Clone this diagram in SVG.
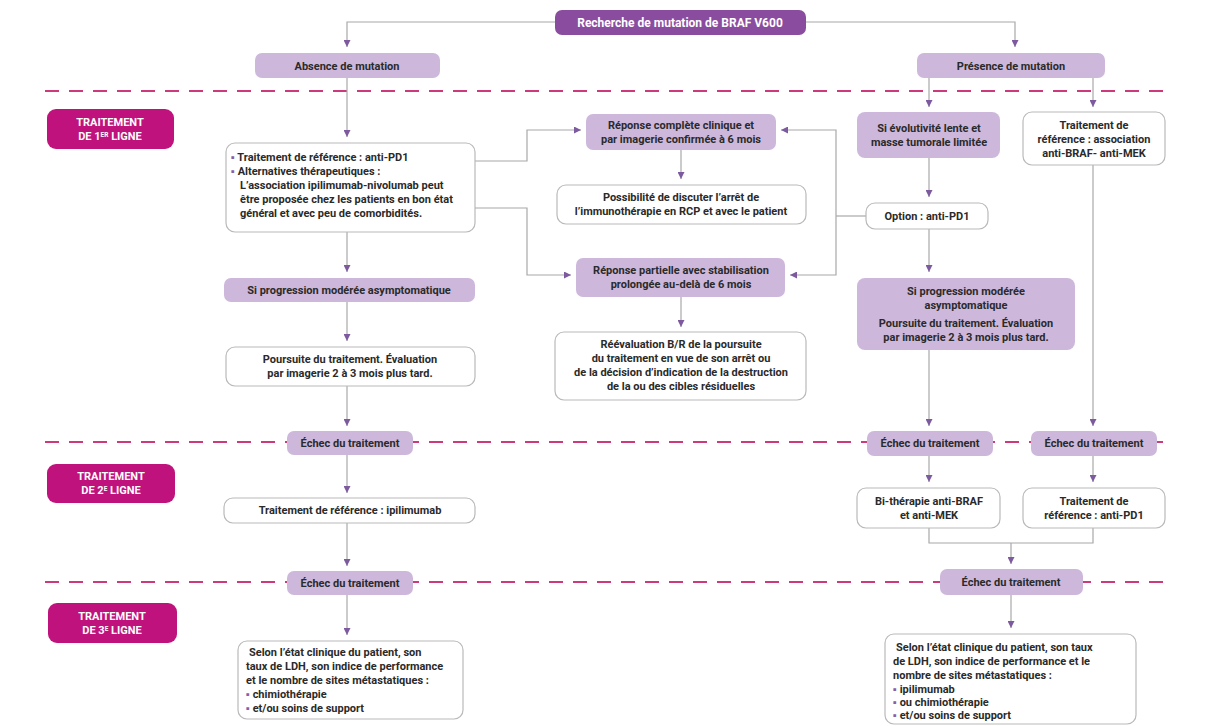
<svg xmlns="http://www.w3.org/2000/svg" width="1215" height="726" viewBox="0 0 1215 726">
  <style>
    text { font-family: Roboto, "Liberation Sans", sans-serif; font-weight: 700; font-size: 11px; fill: #2a2a2a; }
    .c { text-anchor: middle; }
    .w { fill: #fff; font-size: 12px; }
    .lbl { fill: #fff; font-weight: 700; font-size: 11px; text-anchor: middle; }
    .top { fill: #8a4c9e; }
    .lite { fill: #cdb8dc; }
    .box { fill: #fff; stroke: #b9b9b9; stroke-width: 1.2; }
    .tag { fill: #c0127c; }
    .dash { stroke: #cc3a7c; stroke-width: 2; stroke-dasharray: 14 10; fill: none; }
    .ln { stroke: #a8a8a8; stroke-width: 1.2; fill: none; }
    .arr { stroke: #a8a8a8; stroke-width: 1.2; fill: none; marker-end: url(#ah); }
    .bul { fill: #8a5ca8; }
  </style>
  <defs>
    <marker id="ah" viewBox="0 0 8 8" refX="8" refY="4" markerWidth="7" markerHeight="7" markerUnits="userSpaceOnUse" orient="auto">
      <path d="M0,0 L8,4 L0,8 Z" fill="#7d5a9e"/>
    </marker>
  </defs>
  <rect width="1215" height="726" fill="#fff"/>

  <!-- section separators -->
  <g id="separators">
    <line class="dash" x1="45" y1="91" x2="1170" y2="91"/>
    <line class="dash" x1="45" y1="442" x2="1170" y2="442"/>
    <line class="dash" x1="45" y1="582" x2="1170" y2="582"/>
  </g>

  <!-- connectors -->
  <g id="connectors">
    <polyline class="arr" points="555,22 347,22 347,47"/>
    <polyline class="arr" points="806,22 1015,22 1015,47"/>
    <line class="arr" x1="347" y1="78" x2="347" y2="137"/>
    <line class="arr" x1="347" y1="232" x2="347" y2="272"/>
    <line class="arr" x1="347" y1="302" x2="347" y2="341"/>
    <line class="arr" x1="347" y1="386" x2="347" y2="426"/>
    <line class="arr" x1="347" y1="455" x2="347" y2="493"/>
    <line class="arr" x1="347" y1="523" x2="347" y2="566"/>
    <line class="arr" x1="347" y1="595" x2="347" y2="635"/>
    <polyline class="arr" points="475,161 527,161 527,130 581,130"/>
    <polyline class="arr" points="475,208 527,208 527,275 571,275"/>
    <line class="arr" x1="681" y1="150" x2="681" y2="179"/>
    <line class="arr" x1="681" y1="297" x2="681" y2="327"/>
    <polyline class="arr" points="836,216 836,130 781,130"/>
    <polyline class="arr" points="836,216 836,275 790,275"/>
    <line class="ln" x1="836" y1="216" x2="866" y2="216"/>
    <line class="arr" x1="929" y1="78" x2="929" y2="107"/>
    <line class="arr" x1="1093" y1="78" x2="1093" y2="107"/>
    <line class="arr" x1="929" y1="158" x2="929" y2="197"/>
    <line class="arr" x1="929" y1="229" x2="929" y2="272"/>
    <line class="arr" x1="929" y1="350" x2="929" y2="426"/>
    <line class="arr" x1="1093" y1="165" x2="1093" y2="426"/>
    <line class="arr" x1="929" y1="456" x2="929" y2="482"/>
    <line class="arr" x1="1093" y1="456" x2="1093" y2="482"/>
    <polyline class="ln" points="929,528 929,543 1093,543 1093,528"/>
    <line class="arr" x1="1011" y1="543" x2="1011" y2="564"/>
    <line class="arr" x1="1011" y1="595" x2="1011" y2="628"/>
  </g>

  <!-- line-of-treatment tags -->
  <g id="tag-1">
    <rect class="tag" x="47" y="109" width="127" height="40" rx="9"/>
    <text class="lbl" x="110" y="126">TRAITEMENT</text>
    <text class="lbl" x="110" y="140">DE 1<tspan font-size="6.5" dy="-3.5">ER</tspan><tspan dy="3.5"> LIGNE</tspan></text>
  </g>
  <g id="tag-2">
    <rect class="tag" x="47" y="464" width="128" height="39" rx="9"/>
    <text class="lbl" x="111" y="480">TRAITEMENT</text>
    <text class="lbl" x="111" y="494">DE 2<tspan font-size="6.5" dy="-3.5">E</tspan><tspan dy="3.5"> LIGNE</tspan></text>
  </g>
  <g id="tag-3">
    <rect class="tag" x="48" y="603" width="129" height="40" rx="9"/>
    <text class="lbl" x="112" y="620">TRAITEMENT</text>
    <text class="lbl" x="112" y="634">DE 3<tspan font-size="6.5" dy="-3.5">E</tspan><tspan dy="3.5"> LIGNE</tspan></text>
  </g>

  <!-- nodes -->
  <g id="n-braf">
    <rect class="top" x="555" y="10" width="251" height="25" rx="7"/>
    <text class="c w" x="680" y="27">Recherche de mutation de BRAF V600</text>
  </g>
  <g id="n-absence">
    <rect class="lite" x="255" y="53" width="185" height="25" rx="7"/>
    <text class="c" x="347" y="69.5">Absence de mutation</text>
  </g>
  <g id="n-presence">
    <rect class="lite" x="917" y="53" width="188" height="25" rx="7"/>
    <text class="c" x="1011" y="69.5">Présence de mutation</text>
  </g>
  <g id="n-ref-antipd1">
    <rect class="box" x="226" y="143" width="249" height="89" rx="9"/>
    <text x="231" y="161"><tspan class="bul">▪</tspan> Traitement de référence : anti-PD1</text>
    <text x="231" y="175"><tspan class="bul">▪</tspan> Alternatives thérapeutiques :</text>
    <text x="240" y="189">L’association ipilimumab-nivolumab peut</text>
    <text x="240" y="203">être proposée chez les patients en bon état</text>
    <text x="240" y="217">général et avec peu de comorbidités.</text>
  </g>
  <g id="n-prog-left">
    <rect class="lite" x="224" y="278" width="251" height="24" rx="7"/>
    <text class="c" x="349" y="294">Si progression modérée asymptomatique</text>
  </g>
  <g id="n-poursuite-left">
    <rect class="box" x="226" y="347" width="249" height="39" rx="9"/>
    <text class="c" x="350" y="363">Poursuite du traitement. Évaluation</text>
    <text class="c" x="350" y="377">par imagerie 2 à 3 mois plus tard.</text>
  </g>
  <g id="n-echec-l1">
    <rect class="lite" x="287" y="431" width="126" height="24" rx="7"/>
    <text class="c" x="350" y="447">Échec du traitement</text>
  </g>
  <g id="n-ipi">
    <rect class="box" x="224" y="498" width="251" height="25" rx="9"/>
    <text class="c" x="350" y="514">Traitement de référence : ipilimumab</text>
  </g>
  <g id="n-echec-l2">
    <rect class="lite" x="287" y="571" width="126" height="24" rx="7"/>
    <text class="c" x="350" y="587">Échec du traitement</text>
  </g>
  <g id="n-third-left">
    <rect class="box" x="238" y="641" width="225" height="78" rx="9"/>
    <text x="249" y="656">Selon l’état clinique du patient, son</text>
    <text x="246" y="670">taux de LDH, son indice de performance</text>
    <text x="246" y="684">et le nombre de sites métastatiques :</text>
    <text x="246" y="698"><tspan class="bul">▪</tspan> chimiothérapie</text>
    <text x="246" y="712"><tspan class="bul">▪</tspan> et/ou soins de support</text>
  </g>
  <g id="n-rep-complete">
    <rect class="lite" x="586" y="114" width="190" height="36" rx="7"/>
    <text class="c" x="681" y="129">Réponse complète clinique et</text>
    <text class="c" x="681" y="143">par imagerie confirmée à 6 mois</text>
  </g>
  <g id="n-arret">
    <rect class="box" x="557" y="185" width="249" height="39" rx="9"/>
    <text class="c" x="681" y="201">Possibilité de discuter l’arrêt de</text>
    <text class="c" x="681" y="215">l’immunothérapie en RCP et avec le patient</text>
  </g>
  <g id="n-rep-partielle">
    <rect class="lite" x="576" y="258" width="209" height="39" rx="7"/>
    <text class="c" x="681" y="274">Réponse partielle avec stabilisation</text>
    <text class="c" x="681" y="288">prolongée au-delà de 6 mois</text>
  </g>
  <g id="n-reeval">
    <rect class="box" x="555" y="332" width="251" height="68" rx="9"/>
    <text class="c" x="681" y="348">Réévaluation B/R de la poursuite</text>
    <text class="c" x="681" y="362">du traitement en vue de son arrêt ou</text>
    <text class="c" x="681" y="376">de la décision d’indication de la destruction</text>
    <text class="c" x="681" y="390">de la ou des cibles résiduelles</text>
  </g>
  <g id="n-evol-lente">
    <rect class="lite" x="857" y="112" width="143" height="46" rx="8"/>
    <text class="c" x="929" y="132">Si évolutivité lente et</text>
    <text class="c" x="929" y="146">masse tumorale limitée</text>
  </g>
  <g id="n-option">
    <rect class="box" x="866" y="203" width="122" height="26" rx="9"/>
    <text class="c" x="927" y="220">Option : anti-PD1</text>
  </g>
  <g id="n-prog-right">
    <rect class="lite" x="857" y="278" width="218" height="72" rx="8"/>
    <text class="c" x="966" y="295">Si progression modérée</text>
    <text class="c" x="966" y="309">asymptomatique</text>
    <text class="c" x="966" y="327">Poursuite du traitement. Évaluation</text>
    <text class="c" x="966" y="341">par imagerie 2 à 3 mois plus tard.</text>
  </g>
  <g id="n-ref-braf-mek">
    <rect class="box" x="1023" y="112" width="142" height="53" rx="9"/>
    <text class="c" x="1094" y="129">Traitement de</text>
    <text class="c" x="1094" y="143">référence : association</text>
    <text class="c" x="1094" y="157">anti-BRAF- anti-MEK</text>
  </g>
  <g id="n-echec-r1">
    <rect class="lite" x="867" y="431" width="126" height="25" rx="7"/>
    <text class="c" x="930" y="447">Échec du traitement</text>
  </g>
  <g id="n-echec-r2">
    <rect class="lite" x="1031" y="431" width="126" height="25" rx="7"/>
    <text class="c" x="1094" y="447">Échec du traitement</text>
  </g>
  <g id="n-bitherapie">
    <rect class="box" x="857" y="488" width="143" height="40" rx="9"/>
    <text class="c" x="929" y="505">Bi-thérapie anti-BRAF</text>
    <text class="c" x="929" y="519">et anti-MEK</text>
  </g>
  <g id="n-ref-pd1">
    <rect class="box" x="1023" y="488" width="142" height="40" rx="9"/>
    <text class="c" x="1094" y="505">Traitement de</text>
    <text class="c" x="1094" y="519">référence : anti-PD1</text>
  </g>
  <g id="n-echec-r3">
    <rect class="lite" x="940" y="569" width="143" height="26" rx="7"/>
    <text class="c" x="1011" y="586">Échec du traitement</text>
  </g>
  <g id="n-third-right">
    <rect class="box" x="885" y="634" width="251" height="90" rx="9"/>
    <text x="896" y="651">Selon l’état clinique du patient, son taux</text>
    <text x="893" y="665">de LDH, son indice de performance et le</text>
    <text x="893" y="679">nombre de sites métastatiques :</text>
    <text x="893" y="693"><tspan class="bul">▪</tspan> ipilimumab</text>
    <text x="893" y="706"><tspan class="bul">▪</tspan> ou chimiothérapie</text>
    <text x="893" y="719"><tspan class="bul">▪</tspan> et/ou soins de support</text>
  </g>
</svg>
